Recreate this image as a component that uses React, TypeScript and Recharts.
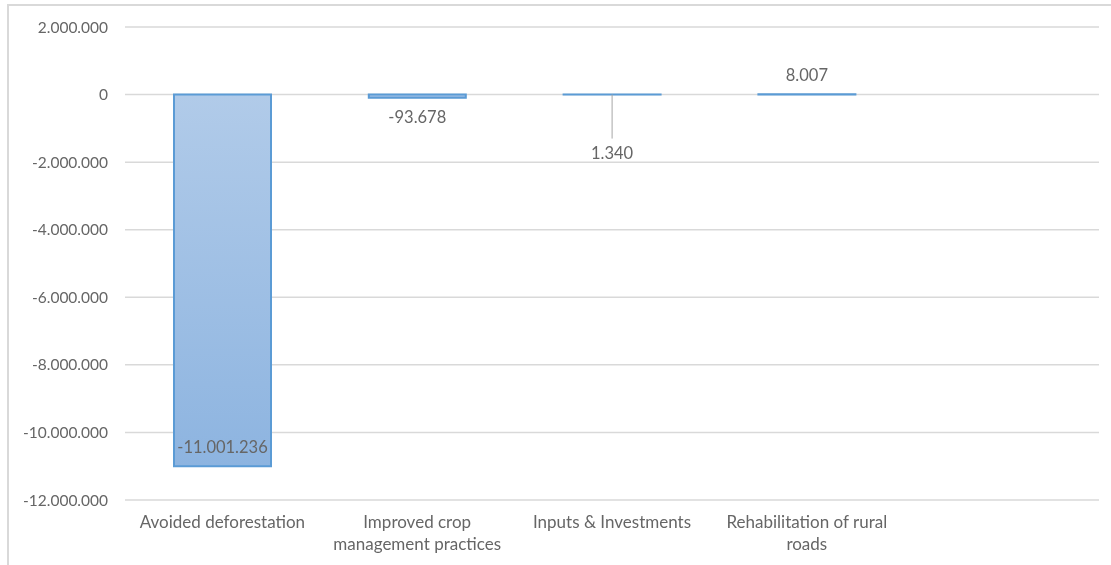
import { BarChart, Bar, XAxis, YAxis, CartesianGrid, LabelList, Text } from 'recharts';

const categories = [
  'Avoided deforestation',
  'Improved crop management practices',
  'Inputs & Investments',
  'Rehabilitation of rural roads',
  '',
];
const values = [-11001236, -93678, 1340, 8007, null];
const yTicks = [2000000, 0, -2000000, -4000000, -6000000, -8000000, -10000000, -12000000];

// how each value label sits next to its bar
const labelModes = ['insideBottom', 'below', 'leader', 'above'];

const data = categories.map((name, i) => ({ name, value: values[i] }));

const FONT = 'Lato, "Noto Sans", sans-serif';
const TEXT = '#666666';

const fmt = (v: number) => {
  const s = Math.abs(v).toString().replace(/\B(?=(\d{3})+(?!\d))/g, '.');
  return (v < 0 ? '-' : '') + s;
};

const ValueLabel = (props: any) => {
  const { x, y, width, height, value, index } = props;
  if (value == null) return null;
  const top = Math.min(y, y + height);
  const bottom = Math.max(y, y + height);
  const cx = x + width / 2;
  const mode = labelModes[index];
  const style = { fontFamily: FONT, fontSize: 16.5, fill: TEXT };
  if (mode === 'insideBottom')
    return <text x={cx} y={bottom - 19} textAnchor="middle" dominantBaseline="central" style={style}>{fmt(value)}</text>;
  if (mode === 'below')
    return <text x={cx} y={bottom + 19} textAnchor="middle" dominantBaseline="central" style={style}>{fmt(value)}</text>;
  if (mode === 'above')
    return <text x={cx} y={top - 19} textAnchor="middle" dominantBaseline="central" style={style}>{fmt(value)}</text>;
  return (
    <g>
      <line x1={cx} x2={cx} y1={bottom} y2={bottom + 44} stroke="#a6a6a6" strokeWidth={1} />
      <text x={cx} y={bottom + 58} textAnchor="middle" dominantBaseline="central" style={style}>{fmt(value)}</text>
    </g>
  );
};

const CategoryTick = (props: any) => {
  const { x, y, payload } = props;
  return (
    <Text
      x={x}
      y={y + 8}
      width={188}
      textAnchor="middle"
      verticalAnchor="start"
      lineHeight={22}
      style={{ fontFamily: FONT, fontSize: 17, fill: TEXT }}
    >
      {payload.value}
    </Text>
  );
};

export default function App() {
  return (
    <div>
      <div
        style={{
          position: 'fixed',
          left: 7,
          top: 4,
          width: 1200,
          height: 700,
          border: '2px solid #d9d9d9',
          pointerEvents: 'none',
        }}
      />
      <BarChart
        width={1095}
        height={549}
        data={data}
        margin={{ top: 19, right: 4, left: 17, bottom: 7 }}
        barSize={97}
      >
        <defs>
          <linearGradient id="barFill" x1="0" y1="0" x2="0" y2="1">
            <stop offset="0%" stopColor="#b1cbe9" />
            <stop offset="100%" stopColor="#8db4e0" />
          </linearGradient>
        </defs>
        <CartesianGrid vertical={false} stroke="#d9d9d9" strokeWidth={1.5} />
        <XAxis
          dataKey="name"
          axisLine={false}
          tickLine={false}
          interval={0}
          height={50}
          tick={<CategoryTick />}
        />
        <YAxis
          domain={[-12000000, 2000000]}
          ticks={yTicks}
          tickFormatter={fmt}
          axisLine={false}
          tickLine={false}
          width={100}
          tickMargin={11}
          tick={{ fontFamily: FONT, fontSize: 15.5, fill: TEXT }}
        />
        <Bar dataKey="value" fill="url(#barFill)" stroke="#5b9bd5" strokeWidth={2} isAnimationActive={false}>
          <LabelList dataKey="value" content={<ValueLabel />} />
        </Bar>
      </BarChart>
    </div>
  );
}
